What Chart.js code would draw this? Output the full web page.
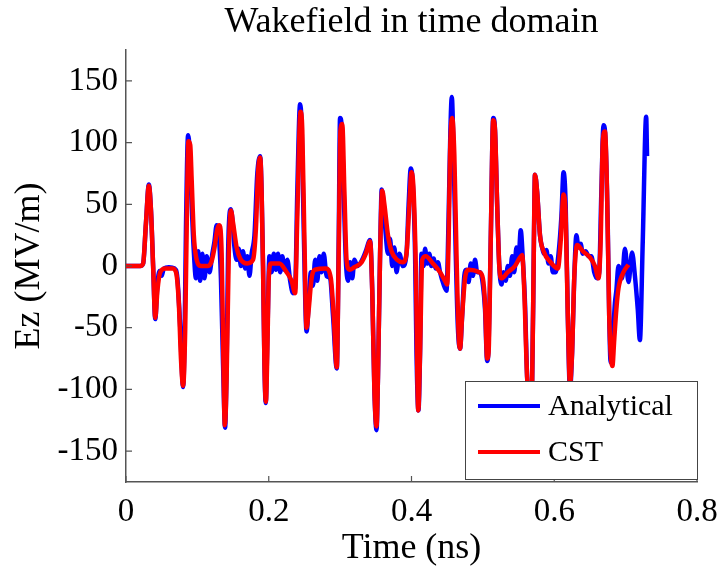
<!DOCTYPE html>
<html><head><meta charset="utf-8">
<script src="https://cdn.jsdelivr.net/npm/chart.js@4.4.1/dist/chart.umd.min.js"></script>
<style>html,body{margin:0;padding:0;background:#fff;}canvas{display:block;}</style>
</head><body>
<canvas id="c" width="724" height="573"></canvas>
<script>
const chartTitle = 'Wakefield in time domain';
const xAxisLabel = 'Time (ns)';
const yAxisLabel = 'Ez (MV/m)';
const seriesNames = ['Analytical', 'CST'];
const xTicks = [0, 0.2, 0.4, 0.6, 0.8];
const yTicks = [-150, -100, -50, 0, 50, 100, 150];

const analyticalTime = [
  0,0.020,0.024,0.028,0.032,0.035,0.038,0.041,0.044,0.047,
  0.050,0.053,0.060,0.068,0.072,0.076,0.080,0.082,0.084,0.087,
  0.089,0.092,0.095,0.098,0.101,0.104,0.107,0.110,0.113,0.117,
  0.121,0.124,0.127,0.130,0.133,0.136,0.1388,0.141,0.143,0.1467,
  0.149,0.152,0.155,0.158,0.161,0.164,0.167,0.170,0.173,0.176,
  0.180,0.184,0.188,0.190,0.192,0.194,0.1958,0.198,0.201,0.204,
  0.207,0.210,0.213,0.216,0.219,0.222,0.226,0.230,0.234,0.237,
  0.240,0.2439,0.246,0.249,0.253,0.256,0.259,0.262,0.265,0.268,
  0.271,0.274,0.277,0.281,0.286,0.290,0.2953,0.298,0.2999,0.302,
  0.305,0.308,0.311,0.314,0.317,0.320,0.324,0.330,0.336,0.342,
  0.345,0.348,0.351,0.353,0.356,0.3583,0.361,0.364,0.367,0.370,
  0.373,0.376,0.379,0.383,0.388,0.393,0.396,0.399,0.402,0.405,
  0.407,0.4097,0.412,0.414,0.417,0.419,0.422,0.425,0.428,0.431,
  0.434,0.437,0.440,0.445,0.449,0.452,0.4545,0.4565,0.459,0.462,
  0.465,0.468,0.471,0.474,0.477,0.480,0.483,0.486,0.489,0.492,
  0.496,0.500,0.503,0.506,0.508,0.511,0.5145,0.517,0.520,0.523,
  0.526,0.529,0.532,0.535,0.538,0.541,0.544,0.547,0.550,0.553,
  0.556,0.559,0.562,0.566,0.569,0.5715,0.573,0.576,0.580,0.583,
  0.586,0.589,0.592,0.595,0.598,0.602,0.606,0.610,0.613,0.616,
  0.619,0.622,0.625,0.628,0.631,0.634,0.637,0.640,0.644,0.648,
  0.652,0.656,0.660,0.663,0.666,0.669,0.672,0.675,0.677,0.679,
  0.682,0.685,0.687,0.690,0.695,0.699,0.704,0.709,0.713,0.717,
  0.720,0.724,0.7288,0.730
];
const analyticalEz = [
  0,0,2,35,66,45,0,-43,-15,-4,
  -8,-2,-1,-2,-10,-50,-98,-60,30,106,
  95,50,12,-10,12,-12,10,-10,8,-5,
  10,20,33,25,-10,-80,-131,-80,10,46,
  38,15,5,14,0,12,-2,8,-8,10,
  25,75,89,60,0,-80,-111,-60,8,-5,
  10,-3,10,-5,8,-3,5,-12,-22,-18,
  60,131,115,30,-53,-30,-5,-16,5,-12,
  8,-5,10,-8,-10,-40,-83,20,120,115,
  60,5,-12,3,-10,5,0,4,12,21,
  -20,-100,-133,-90,10,62,50,25,10,22,
  0,15,-5,10,0,10,50,79,65,10,
  -70,-117,-70,10,0,14,2,10,0,6,
  -2,3,-5,-15,-20,40,110,137,90,10,
  -50,-67,-40,-8,-3,-13,2,-8,5,-5,
  -5,-15,-35,-77,-65,20,120,110,50,0,
  -15,-5,-12,0,-8,8,-5,15,5,29,
  5,-30,-90,-112,-95,20,74,60,25,15,
  10,13,2,8,-5,-5,10,40,76,50,
  -40,-100,-70,-10,25,15,18,10,12,8,
  8,-5,-10,-5,60,114,100,30,-40,-78,
  -60,-30,-20,0,-10,14,-13,11,-8,-35,
  -60,20,121,89
];

const cstTime = [
  0,0.020,0.024,0.028,0.032,0.035,0.038,0.041,0.044,0.048,
  0.055,0.065,0.070,0.074,0.077,0.080,0.083,0.085,0.0875,0.090,
  0.092,0.095,0.098,0.105,0.115,0.120,0.124,0.128,0.131,0.134,
  0.136,0.1385,0.141,0.144,0.147,0.150,0.155,0.160,0.170,0.178,
  0.182,0.185,0.188,0.190,0.192,0.194,0.196,0.198,0.200,0.203,
  0.215,0.225,0.232,0.237,0.240,0.2445,0.247,0.250,0.253,0.256,
  0.260,0.265,0.280,0.287,0.291,0.2953,0.298,0.3005,0.303,0.306,
  0.309,0.313,0.320,0.330,0.336,0.342,0.345,0.348,0.351,0.353,
  0.356,0.359,0.362,0.367,0.372,0.380,0.388,0.393,0.397,0.400,
  0.403,0.406,0.4095,0.412,0.415,0.420,0.430,0.440,0.447,0.450,
  0.452,0.454,0.457,0.460,0.463,0.466,0.468,0.471,0.475,0.480,
  0.495,0.500,0.503,0.506,0.508,0.511,0.5145,0.517,0.520,0.523,
  0.526,0.535,0.545,0.551,0.555,0.558,0.562,0.566,0.569,0.5715,
  0.573,0.576,0.580,0.585,0.595,0.605,0.609,0.613,0.616,0.619,
  0.622,0.625,0.628,0.632,0.640,0.650,0.657,0.662,0.665,0.668,
  0.671,0.674,0.677,0.6815,0.684,0.687,0.690,0.697,0.704
];
const cstEz = [
  0,0,2,35,65,45,0,-42,-20,-5,
  -2,-2,-5,-30,-75,-97,-50,30,101,98,
  70,25,8,0,0,4,15,30,33,10,
  -60,-129,-90,10,45,35,15,6,2,5,
  30,75,88,60,0,-80,-110,-70,-10,2,
  2,-5,-12,-22,40,125,110,20,-50,-35,
  -10,-3,-2,-10,-40,-82,10,110,115,60,
  5,-3,-1,3,10,20,-20,-100,-130,-90,
  10,61,50,25,12,5,3,10,50,76,
  60,0,-117,-70,5,8,2,-5,-12,-15,
  20,90,120,90,10,-55,-67,-40,-10,-3,
  -5,-10,-30,-75,-70,20,118,110,50,0,
  -10,-5,0,6,9,-20,-90,-110,-95,20,
  74,60,25,12,3,-2,20,58,40,-40,
  -95,-70,-10,17,12,7,0,-10,20,100,
  109,60,-40,-81,-60,-35,-18,-5,1
];

const FONT = '"Liberation Serif", "Times New Roman", serif';
const toPoints = (ts, vs) => ts.map((t, i) => ({x: t, y: vs[i]}));
const seriesColors = ['#0000ff', '#ff0000'];

const decorPlugin = {
  id: 'decor',
  afterDatasetsDraw(chart) {
    const ctx = chart.ctx, a = chart.chartArea;
    const xs = chart.scales.x, ys = chart.scales.y;
    ctx.save();
    ctx.strokeStyle = '#555'; ctx.lineWidth = 1.2;
    ctx.beginPath();
    xTicks.forEach(v => { const p = xs.getPixelForValue(v); ctx.moveTo(p, a.bottom); ctx.lineTo(p, a.bottom - 6); });
    yTicks.forEach(v => { const p = ys.getPixelForValue(v); ctx.moveTo(a.left, p); ctx.lineTo(a.left + 6, p); });
    ctx.stroke();
    const bw = 232, bh = 98;
    const bx = a.right - bw, by = a.bottom - 3 - bh;
    ctx.fillStyle = '#fff';
    ctx.fillRect(bx, by, bw, bh);
    ctx.strokeStyle = '#444'; ctx.lineWidth = 1;
    ctx.strokeRect(bx + 0.5, by + 0.5, bw, bh);
    ctx.font = '30px ' + FONT;
    ctx.textBaseline = 'middle'; ctx.textAlign = 'left';
    seriesNames.forEach((n, i) => {
      const yy = by + 25 + i * 46;
      ctx.strokeStyle = seriesColors[i]; ctx.lineWidth = 4;
      ctx.beginPath(); ctx.moveTo(bx + 13, yy); ctx.lineTo(bx + 75, yy); ctx.stroke();
      ctx.fillStyle = '#000';
      ctx.fillText(n, bx + 83, yy + 1);
    });
    ctx.font = '36px ' + FONT;
    ctx.textAlign = 'center'; ctx.textBaseline = 'alphabetic';
    ctx.fillStyle = '#000';
    ctx.fillText(chartTitle, (a.left + a.right) / 2, 32);
    ctx.restore();
  }
};

new Chart(document.getElementById('c'), {
  type: 'line',
  data: {
    datasets: [
      { label: seriesNames[0], data: toPoints(analyticalTime, analyticalEz), borderColor: seriesColors[0],
        borderWidth: 4.5, pointRadius: 0, cubicInterpolationMode: 'monotone', order: 1, borderJoinStyle: 'round' },
      { label: seriesNames[1], data: toPoints(cstTime, cstEz), borderColor: seriesColors[1],
        borderWidth: 4.5, pointRadius: 0, cubicInterpolationMode: 'monotone', order: 0, borderJoinStyle: 'round' }
    ]
  },
  options: {
    responsive: false, animation: false,
    layout: { padding: { top: 50, right: 27, left: 0, bottom: 0 } },
    plugins: { legend: { display: false }, title: { display: false }, tooltip: { enabled: false } },
    scales: {
      x: {
        type: 'linear', min: 0, max: 0.8,
        afterBuildTicks: s => { s.ticks = xTicks.map(v => ({ value: v })); },
        afterFit: s => { s.height = 91; s.paddingRight = 0; s.paddingLeft = 0; },
        grid: { display: true, drawOnChartArea: false, drawTicks: false },
        border: { display: true, color: '#555', width: 1.5 },
        ticks: { padding: 11, color: '#000', font: { family: FONT, size: 33 }, maxRotation: 0, autoSkip: false,
                 callback: v => String(v) },
        title: { display: true, text: xAxisLabel, color: '#000', font: { family: FONT, size: 36, lineHeight: 1 },
                 padding: { top: 0, bottom: 6 } }
      },
      y: {
        type: 'linear', min: -175, max: 175,
        afterBuildTicks: s => { s.ticks = yTicks.map(v => ({ value: v })); },
        afterFit: s => { s.width = 126; s.paddingTop = 0; s.paddingBottom = 0; },
        grid: { display: true, drawOnChartArea: false, drawTicks: false },
        border: { display: true, color: '#555', width: 1.5 },
        ticks: { padding: 8, color: '#000', font: { family: FONT, size: 33 }, autoSkip: false,
                 callback: v => String(v) },
        title: { display: true, text: yAxisLabel, color: '#000', font: { family: FONT, size: 36, lineHeight: 1 },
                 padding: { top: 12, bottom: 0 } }
      }
    }
  },
  plugins: [decorPlugin]
});
</script>
</body></html>
